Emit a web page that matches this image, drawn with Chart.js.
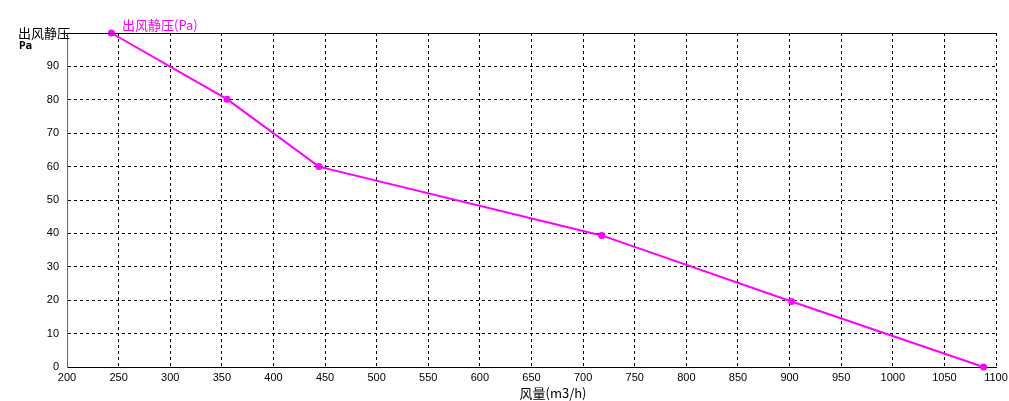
<!DOCTYPE html>
<html>
<head>
<meta charset="utf-8">
<script src="https://cdn.jsdelivr.net/npm/chart.js@4/dist/chart.umd.min.js"></script>
<style>
  html, body { margin: 0; padding: 0; background: #fff; }
  #wrap { width: 1009px; height: 401px; }
</style>
</head>
<body>
<div id="wrap"><canvas id="pqChart" width="1009" height="401"></canvas></div>
<script>
// air flow (m3/h) vs static pressure (Pa)
const airFlow = [243, 355, 444, 718, 902, 1088];
const staticPressure = [100, 80.2, 60, 39.4, 19.6, 0];
const seriesName = '出风静压(Pa)';
const yTitle = '出风静压';
const yUnit = 'Pa';
const xTitle = '风量(m3/h)';

const MAGENTA = '#ff00ff';
const tickFont = { family: '"Liberation Sans", Arial, sans-serif', size: 11 };
const cjkFont = '13px "Noto Sans CJK SC", sans-serif';

const labelsPlugin = {
    id: 'extraLabels',
    afterDraw(chart) {
        const ctx = chart.ctx;
        const area = chart.chartArea;
        ctx.save();
        // solid top frame line
        ctx.strokeStyle = '#000';
        ctx.lineWidth = 1;
        ctx.beginPath();
        ctx.moveTo(area.left, Math.round(area.top) + 0.5);
        ctx.lineTo(area.right, Math.round(area.top) + 0.5);
        ctx.stroke();

        ctx.textBaseline = 'middle';
        ctx.fillStyle = '#000';
        ctx.font = cjkFont;
        ctx.textAlign = 'left';
        ctx.fillText(yTitle, 18, 33);
        ctx.font = 'bold 11px "DejaVu Sans Mono", monospace';
        ctx.fillText(yUnit, 19, 46);

        ctx.fillStyle = MAGENTA;
        ctx.font = cjkFont;
        ctx.fillText(seriesName, 122, 25);

        ctx.fillStyle = '#000';
        ctx.textAlign = 'center';
        ctx.fillText(xTitle, 553, 393);
        ctx.restore();
    }
};

new Chart(document.getElementById('pqChart').getContext('2d'), {
    type: 'line',
    data: {
        datasets: [{
            label: seriesName,
            data: airFlow.map((x, i) => ({ x: x, y: staticPressure[i] })),
            borderColor: MAGENTA,
            backgroundColor: MAGENTA,
            borderWidth: 2,
            pointRadius: 2.5,
            pointHoverRadius: 2.5,
            tension: 0,
            clip: false
        }]
    },
    options: {
        responsive: false,
        animation: false,
        events: [],
        layout: { padding: { top: 33, right: 13, left: 0, bottom: 0 } },
        plugins: {
            legend: { display: false },
            tooltip: { enabled: false },
            title: { display: false }
        },
        scales: {
            x: {
                type: 'linear',
                min: 200,
                max: 1100,
                ticks: {
                    stepSize: 50, color: '#000', font: tickFont, padding: 4,
                    maxRotation: 0, autoSkip: false,
                    callback: v => String(v)
                },
                grid: { color: '#000', lineWidth: 1, drawTicks: false },
                border: { color: '#000', width: 1, dash: [3, 3] },
                afterFit(scale) {
                    scale.height = 34;
                    scale.paddingRight = 0;
                    scale.paddingLeft = 0;
                }
            },
            y: {
                min: 0,
                max: 100,
                ticks: {
                    stepSize: 10,
                    color: '#000',
                    font: tickFont,
                    padding: 8,
                    callback: v => (v === 100 ? '' : String(v))
                },
                grid: { color: '#000', lineWidth: 1, drawTicks: false },
                border: { color: MAGENTA, width: 1, dash: [3, 3] },
                afterFit(scale) {
                    scale.width = 67;
                    scale.paddingTop = 0;
                    scale.paddingBottom = 0;
                }
            }
        }
    },
    plugins: [labelsPlugin]
});
</script>
</body>
</html>
